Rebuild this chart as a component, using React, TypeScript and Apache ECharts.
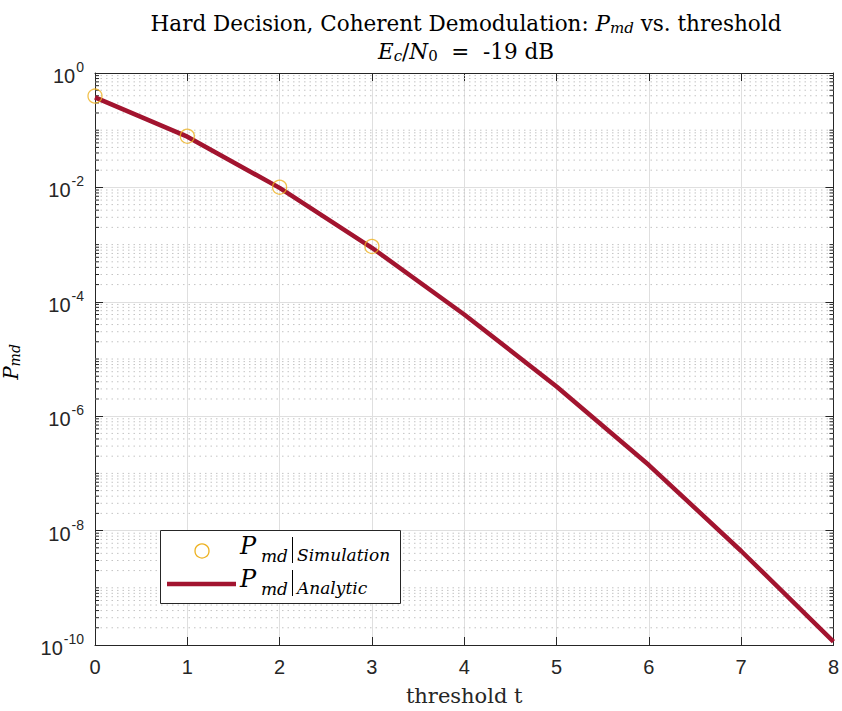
import React, { useEffect, useRef } from "react";
import * as echarts from "echarts";

// threshold values and miss-detection probabilities
const tAnalytic = [0, 1, 2, 3, 4, 5, 6, 7, 8];
const pmdAnalytic = [0.375, 0.077, 0.0098, 8.8e-4, 6.0e-5, 3.3e-6, 1.4e-7, 4.4e-9, 1.15e-10];
const tSimulation = [0, 1, 2, 3];
const pmdSimulation = [0.395, 0.0785, 0.0101, 9.3e-4];

// axis settings
const xTicks = [0, 1, 2, 3, 4, 5, 6, 7, 8];
const yMinExp = -10;
const yMaxExp = 0;
const minorMantissas = [2, 3, 4, 5, 6, 7, 8, 9];
const oddDecades = [-9, -7, -5, -3, -1];

const AXIS_COLOR = "#262626";
const GRID_COLOR = "#dfdfdf";
const MINOR_GRID_COLOR = "#c4c4c4";
const LINE_COLOR = "#A2142F";
const MARKER_COLOR = "#EDB120";
const SERIF = "'DejaVu Serif', 'Liberation Serif', serif";
const SANS = "'Liberation Sans', Arial, sans-serif";

// minor grid positions: 2..9 x 10^k plus the unlabelled odd decades
const minorGrid: number[] = [];
for (let e = yMinExp; e < yMaxExp; e++) {
  for (const m of minorMantissas) minorGrid.push(m * Math.pow(10, e));
}
for (const e of oddDecades) minorGrid.push(Math.pow(10, e));

const serifText = (x: number, y: number, text: string, size: number, italic: boolean) => ({
  type: "text",
  x,
  y,
  z: 12,
  style: {
    text,
    fontFamily: SERIF,
    fontSize: size,
    fontStyle: italic ? "italic" : "normal",
    fill: "#000",
    textVerticalAlign: "middle",
  },
});

const borderLine = (x1: number, y1: number, x2: number, y2: number, color: string) => ({
  type: "line",
  z: 12,
  shape: { x1, y1, x2, y2 },
  style: { stroke: color, lineWidth: 1 },
});

// one legend row: P_md | label
const legendRow = (baseY: number, label: string) => [
  serifText(80, baseY - 8, "P", 24, true),
  serifText(101, baseY + 2, "md", 17, true),
  borderLine(132.5, baseY - 17, 132.5, baseY + 9, "#000"),
  serifText(137, baseY + 1, label, 17, true),
];

export default function App() {
  const ref = useRef<HTMLDivElement>(null);

  useEffect(() => {
    if (!ref.current) return;
    const chart = echarts.init(ref.current, null, { renderer: "svg" });

    const expLabel = (v: number) => {
      const e = Math.round(Math.log10(v));
      return `{b|10}{e|${e}}`;
    };

    const labelRich = {
      b: { fontFamily: SANS, fontSize: 20, color: AXIS_COLOR, lineHeight: 26, verticalAlign: "bottom" },
      e: { fontFamily: SANS, fontSize: 14, color: AXIS_COLOR, lineHeight: 26, verticalAlign: "top", padding: [0, 0, 0, 1] },
    };

    const titleRich = {
      n: { fontFamily: SERIF, fontSize: 21.5, fontWeight: "normal", color: "#000", lineHeight: 28 },
      i: { fontFamily: SERIF, fontSize: 21.5, fontWeight: "normal", fontStyle: "italic", color: "#000", lineHeight: 28 },
      s: { fontFamily: SERIF, fontSize: 15, fontWeight: "normal", fontStyle: "italic", color: "#000", lineHeight: 28, padding: [10, 0, 0, 0] },
      r: { fontFamily: SERIF, fontSize: 15, fontWeight: "normal", color: "#000", lineHeight: 28, padding: [10, 0, 0, 0] },
    };

    // legend frame: 240 x 73 box
    const LW = 240;
    const LH = 73;

    chart.setOption({
      animation: false,
      backgroundColor: "#ffffff",
      grid: { left: 95, right: 6, top: 73, bottom: 65, containLabel: false },
      title: {
        text: "{n|Hard Decision, Coherent Demodulation: }{i|P}{s|md}{n| vs. threshold}\n{i|E}{s|c}{n|/}{i|N}{r|0}{n|  =  -19 dB}",
        left: 461,
        top: 4,
        textAlign: "center",
        textStyle: { fontWeight: "normal", rich: titleRich },
      },
      xAxis: [
        {
          type: "value",
          min: 0,
          max: 8,
          interval: 1,
          name: "threshold t",
          nameLocation: "middle",
          nameGap: 40,
          nameTextStyle: { fontFamily: SERIF, fontSize: 21, color: AXIS_COLOR },
          axisLine: { onZero: false, lineStyle: { color: AXIS_COLOR, width: 1 } },
          axisTick: { inside: true, length: 8, lineStyle: { color: AXIS_COLOR } },
          axisLabel: {
            margin: 12,
            fontFamily: SANS,
            fontSize: 20,
            color: AXIS_COLOR,
            formatter: (v: number) => (xTicks.includes(v) ? String(v) : ""),
          },
          splitLine: { show: true, lineStyle: { color: GRID_COLOR, width: 1 } },
        },
        {
          type: "value",
          position: "top",
          min: 0,
          max: 8,
          interval: 1,
          axisLine: { onZero: false, lineStyle: { color: AXIS_COLOR, width: 1 } },
          axisTick: { inside: true, length: 8, lineStyle: { color: AXIS_COLOR } },
          axisLabel: { show: false },
          splitLine: { show: false },
        },
      ],
      yAxis: [
        {
          type: "log",
          logBase: 10,
          min: Math.pow(10, yMinExp),
          max: Math.pow(10, yMaxExp),
          interval: 2,
          axisLine: { show: true, onZero: false, lineStyle: { color: AXIS_COLOR, width: 1 } },
          axisTick: { show: true, inside: true, length: 8, lineStyle: { color: AXIS_COLOR } },
          axisLabel: { margin: 11, formatter: expLabel, rich: labelRich },
          splitLine: { show: true, lineStyle: { color: GRID_COLOR, width: 1 } },
        },
        {
          type: "log",
          logBase: 10,
          position: "right",
          min: Math.pow(10, yMinExp),
          max: Math.pow(10, yMaxExp),
          interval: 2,
          axisLine: { show: true, onZero: false, lineStyle: { color: AXIS_COLOR, width: 1 } },
          axisTick: { show: true, inside: true, length: 8, lineStyle: { color: AXIS_COLOR } },
          axisLabel: { show: false },
          splitLine: { show: false },
        },
      ],
      series: [
        {
          // dotted minor grid with short inward ticks on both y axes
          type: "custom",
          xAxisIndex: 0,
          yAxisIndex: 0,
          silent: true,
          z: 1,
          data: minorGrid.map((v) => [0, v]),
          renderItem: (params: any, api: any) => {
            const cs = params.coordSys;
            const y = api.coord([0, api.value(1)])[1];
            const x0 = cs.x;
            const x1 = cs.x + cs.width;
            return {
              type: "group",
              children: [
                {
                  type: "line",
                  shape: { x1: x0, y1: y, x2: x1, y2: y },
                  style: { stroke: MINOR_GRID_COLOR, lineWidth: 1, lineDash: [1.5, 4] },
                },
                {
                  type: "line",
                  shape: { x1: x0, y1: y, x2: x0 + 4, y2: y },
                  style: { stroke: AXIS_COLOR, lineWidth: 1 },
                },
                {
                  type: "line",
                  shape: { x1: x1 - 4, y1: y, x2: x1, y2: y },
                  style: { stroke: AXIS_COLOR, lineWidth: 1 },
                },
              ],
            };
          },
        },
        {
          name: "Analytic",
          type: "line",
          xAxisIndex: 0,
          yAxisIndex: 0,
          z: 3,
          data: tAnalytic.map((t, i) => [t, pmdAnalytic[i]]),
          showSymbol: false,
          symbol: "none",
          lineStyle: { color: LINE_COLOR, width: 4.5 },
        },
        {
          name: "Simulation",
          type: "scatter",
          xAxisIndex: 0,
          yAxisIndex: 0,
          z: 4,
          data: tSimulation.map((t, i) => [t, pmdSimulation[i]]),
          symbol: "circle",
          symbolSize: 14,
          itemStyle: { color: "rgba(0,0,0,0)", borderColor: MARKER_COLOR, borderWidth: 1.3 },
        },
      ],
      graphic: [
        {
          // y-axis label
          type: "text",
          x: 22,
          y: 362,
          rotation: Math.PI / 2,
          style: {
            text: "{i|P}{s|md}",
            textAlign: "center",
            textVerticalAlign: "bottom",
            rich: {
              i: { fontFamily: SERIF, fontSize: 20, fontStyle: "italic", fill: "#000", lineHeight: 22 },
              s: { fontFamily: SERIF, fontSize: 14, fontStyle: "italic", fill: "#000", lineHeight: 22, padding: [8, 0, 0, 0] },
            },
          },
        },
        {
          // legend
          type: "group",
          x: 160,
          y: 530,
          z: 10,
          children: [
            {
              type: "rect",
              z: 11,
              shape: { x: 0, y: 0, width: LW + 1, height: LH + 1 },
              style: { fill: "#ffffff", lineWidth: 0 },
            },
            borderLine(0.5, 0.5, LW + 0.5, 0.5, AXIS_COLOR),
            borderLine(LW + 0.5, 0.5, LW + 0.5, LH + 0.5, AXIS_COLOR),
            borderLine(0.5, LH + 0.5, LW + 0.5, LH + 0.5, AXIS_COLOR),
            borderLine(0.5, 0.5, 0.5, LH + 0.5, AXIS_COLOR),
            {
              type: "circle",
              z: 12,
              shape: { cx: 42, cy: 21, r: 7 },
              style: { fill: "none", stroke: MARKER_COLOR, lineWidth: 1.3 },
            },
            {
              type: "line",
              z: 12,
              shape: { x1: 7, y1: 54, x2: 76, y2: 54 },
              style: { stroke: LINE_COLOR, lineWidth: 4.5 },
            },
            ...legendRow(24, "Simulation"),
            ...legendRow(57, "Analytic"),
          ],
        },
      ],
    });

    return () => chart.dispose();
  }, []);

  return <div ref={ref} style={{ width: 842, height: 711, position: "absolute", left: 0, top: 0 }} />;
}
